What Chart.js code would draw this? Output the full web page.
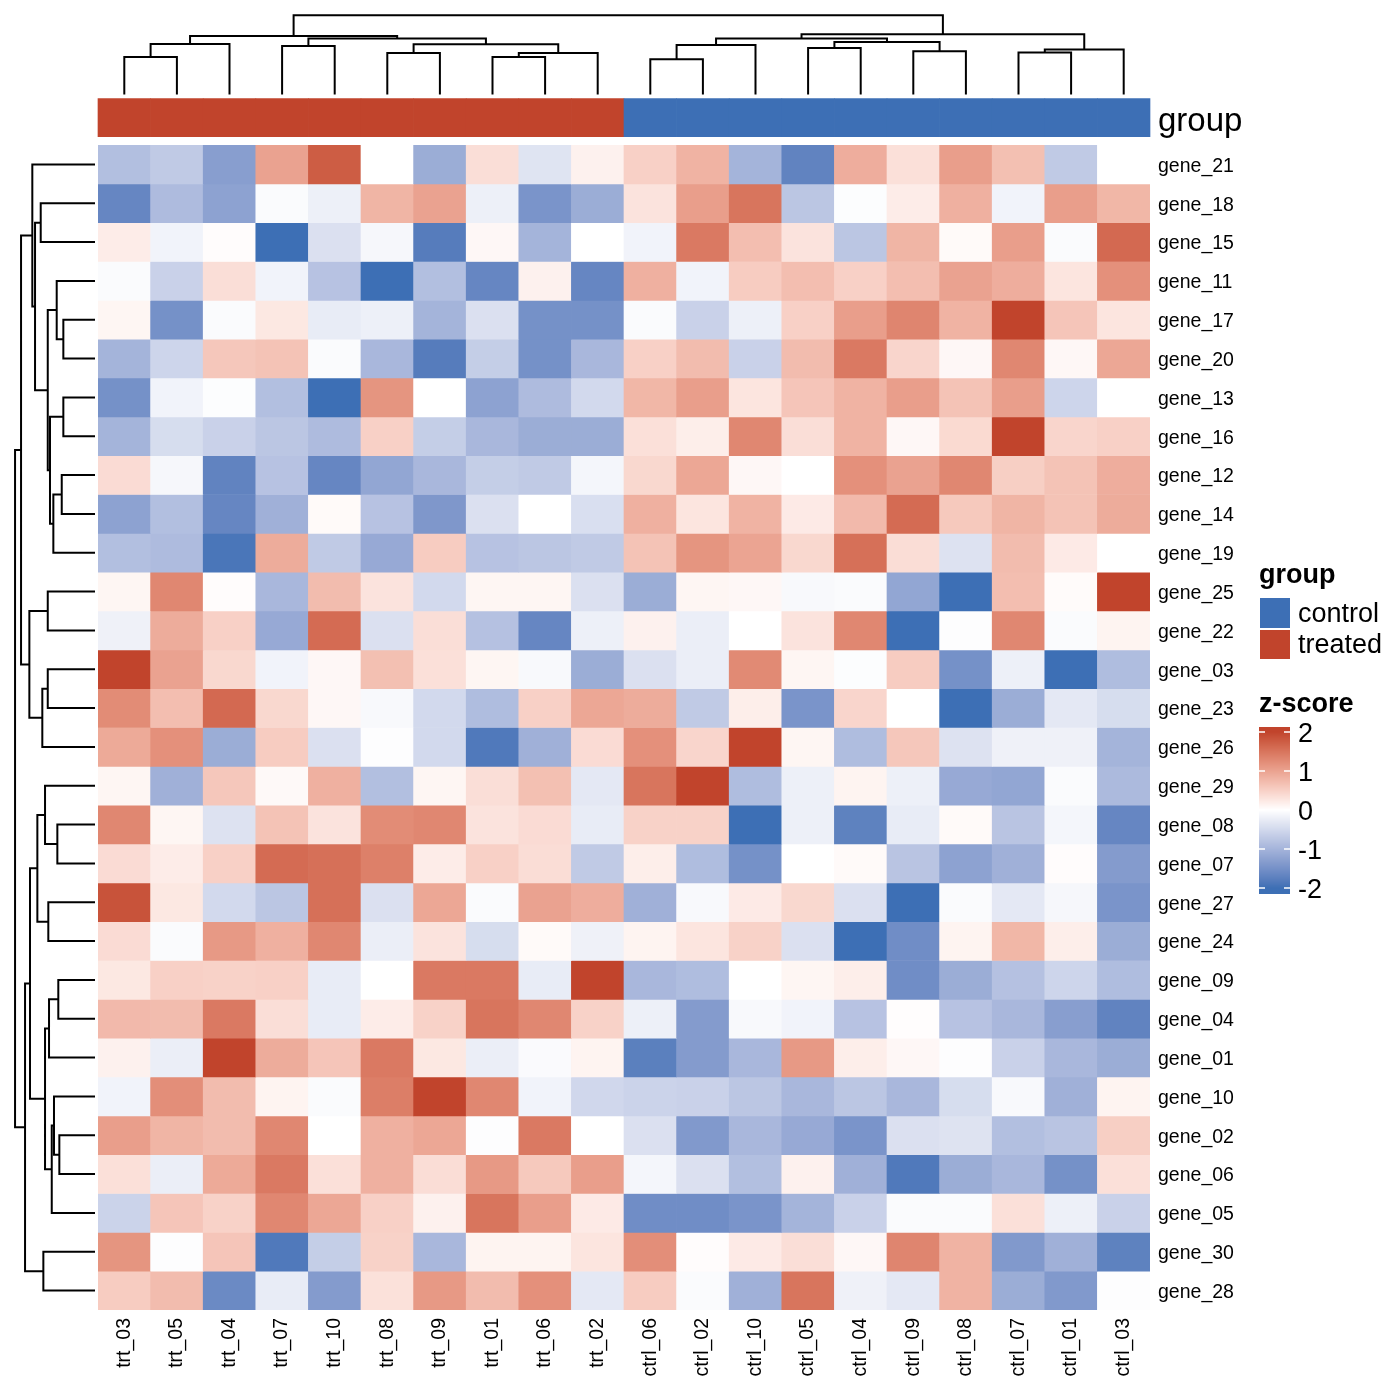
<!DOCTYPE html>
<html>
<head>
<meta charset="utf-8">
<script src="https://cdn.jsdelivr.net/npm/chart.js@4.4.0/dist/chart.umd.min.js"></script>
<style>
  html, body { margin: 0; padding: 0; background: #ffffff; }
</style>
</head>
<body>
<canvas id="heatmap" width="1400" height="1400"></canvas>
<script>
// column order as drawn (after clustering)
const colLabels = ["trt_03", "trt_05", "trt_04", "trt_07", "trt_10", "trt_08", "trt_09", "trt_01", "trt_06", "trt_02",
  "ctrl_06", "ctrl_02", "ctrl_10", "ctrl_05", "ctrl_04", "ctrl_09", "ctrl_08", "ctrl_07", "ctrl_01", "ctrl_03"];
const colGroups = ["treated", "treated", "treated", "treated", "treated", "treated", "treated", "treated", "treated", "treated",
  "control", "control", "control", "control", "control", "control", "control", "control", "control", "control"];

// row order as drawn (after clustering)
const rowLabels = ["gene_21", "gene_18", "gene_15", "gene_11", "gene_17", "gene_20", "gene_13", "gene_16", "gene_12", "gene_14",
  "gene_19", "gene_25", "gene_22", "gene_03", "gene_23", "gene_26", "gene_29", "gene_08", "gene_07", "gene_27",
  "gene_24", "gene_09", "gene_04", "gene_01", "gene_10", "gene_02", "gene_06", "gene_05", "gene_30", "gene_28"];

// z-scores, one row per gene, columns in colLabels order
const zScores = [
  [-0.85, -0.7, -1.3, 1.0, 1.75, 0.0, -1.1, 0.35, -0.35, 0.15, 0.5, 0.82, -1.0, -1.7, 0.88, 0.33, 1.05, 0.68, -0.7, 0.0],
  [-1.65, -0.9, -1.25, -0.05, -0.2, 0.8, 1.0, -0.2, -1.45, -1.1, 0.3, 1.05, 1.5, -0.75, -0.03, 0.2, 0.85, -0.15, 1.05, 0.78],
  [0.2, -0.15, 0.03, -2.1, -0.4, -0.1, -1.8, 0.08, -1.0, 0.0, -0.15, 1.45, 0.7, 0.3, -0.75, 0.8, 0.05, 1.05, -0.05, 1.62],
  [-0.05, -0.6, 0.35, -0.15, -0.8, -2.0, -0.85, -1.65, 0.15, -1.65, 0.85, -0.15, 0.55, 0.7, 0.5, 0.7, 1.0, 0.88, 0.28, 1.2],
  [0.1, -1.5, -0.05, 0.25, -0.25, -0.2, -1.0, -0.4, -1.5, -1.5, -0.05, -0.6, -0.2, 0.5, 1.05, 1.32, 0.82, 2.05, 0.62, 0.28],
  [-1.0, -0.55, 0.6, 0.65, -0.05, -0.95, -1.8, -0.65, -1.5, -0.95, 0.5, 0.72, -0.6, 0.72, 1.45, 0.45, 0.08, 1.3, 0.08, 0.95],
  [-1.5, -0.15, -0.03, -0.85, -2.0, 1.15, 0.0, -1.25, -0.9, -0.5, 0.78, 1.05, 0.28, 0.62, 0.82, 1.05, 0.65, 1.05, -0.55, 0.0],
  [-1.0, -0.45, -0.6, -0.75, -0.9, 0.5, -0.65, -0.95, -1.1, -1.1, 0.33, 0.18, 1.3, 0.35, 0.82, 0.08, 0.4, 2.05, 0.45, 0.5],
  [0.38, -0.1, -1.7, -0.8, -1.65, -1.2, -0.95, -0.65, -0.7, -0.12, 0.42, 0.95, 0.08, 0.0, 1.2, 1.0, 1.3, 0.52, 0.65, 0.88],
  [-1.25, -0.85, -1.65, -1.05, 0.05, -0.8, -1.4, -0.4, 0.0, -0.42, 0.85, 0.28, 0.82, 0.22, 0.75, 1.6, 0.58, 0.8, 0.65, 0.9],
  [-0.85, -0.9, -1.9, 0.9, -0.7, -1.15, 0.55, -0.8, -0.75, -0.7, 0.65, 1.15, 0.98, 0.42, 1.55, 0.36, -0.38, 0.72, 0.22, 0.0],
  [0.1, 1.3, 0.03, -0.95, 0.72, 0.3, -0.5, 0.1, 0.1, -0.4, -1.1, 0.1, 0.08, -0.08, -0.05, -1.2, -2.0, 0.7, 0.04, 2.05],
  [-0.18, 0.9, 0.5, -1.15, 1.6, -0.4, 0.35, -0.82, -1.65, -0.2, 0.15, -0.22, 0.0, 0.3, 1.3, -2.0, -0.02, 1.3, -0.05, 0.12],
  [2.1, 1.0, 0.42, -0.15, 0.08, 0.68, 0.33, 0.1, -0.08, -1.1, -0.4, -0.22, 1.27, 0.1, -0.03, 0.55, -1.5, -0.2, -2.0, -0.88],
  [1.25, 0.7, 1.62, 0.42, 0.08, -0.08, -0.5, -0.88, 0.5, 0.95, 0.9, -0.7, 0.18, -1.45, 0.45, 0.0, -2.0, -1.1, -0.3, -0.45],
  [0.92, 1.2, -1.1, 0.55, -0.4, -0.02, -0.5, -1.85, -1.05, 0.38, 1.2, 0.45, 2.05, 0.1, -0.88, 0.6, -0.38, -0.18, -0.18, -1.0],
  [0.1, -1.05, 0.6, 0.06, 0.85, -0.85, 0.1, 0.35, 0.68, -0.3, 1.5, 2.05, -0.88, -0.2, 0.12, -0.2, -1.15, -1.2, -0.05, -0.92],
  [1.3, 0.1, -0.38, 0.65, 0.3, 1.25, 1.3, 0.3, 0.38, -0.25, 0.48, 0.48, -2.0, -0.2, -1.72, -0.25, 0.05, -0.78, -0.12, -1.65],
  [0.38, 0.2, 0.5, 1.6, 1.55, 1.38, 0.2, 0.5, 0.36, -0.7, 0.18, -0.88, -1.5, 0.0, 0.05, -0.78, -1.25, -1.05, 0.03, -1.35],
  [1.85, 0.25, -0.5, -0.75, 1.55, -0.4, 0.95, -0.05, 1.0, 0.88, -1.05, -0.08, 0.22, 0.42, -0.4, -2.0, -0.05, -0.3, -0.1, -1.45],
  [0.38, -0.05, 1.1, 0.85, 1.3, -0.22, 0.3, -0.45, 0.05, -0.18, 0.12, 0.28, 0.48, -0.4, -2.0, -1.55, 0.12, 0.78, 0.18, -1.1],
  [0.25, 0.5, 0.48, 0.5, -0.25, 0.0, 1.45, 1.45, -0.25, 2.05, -0.95, -0.88, 0.0, 0.1, 0.18, -1.55, -1.1, -0.82, -0.55, -0.88],
  [0.75, 0.72, 1.45, 0.35, -0.25, 0.2, 0.48, 1.5, 1.3, 0.48, -0.2, -1.35, -0.08, -0.15, -0.8, 0.02, -0.8, -0.95, -1.3, -1.7],
  [0.15, -0.22, 2.1, 0.9, 0.62, 1.45, 0.25, -0.22, -0.06, 0.12, -1.75, -1.35, -0.95, 1.1, 0.18, 0.08, -0.02, -0.6, -0.95, -1.1],
  [-0.15, 1.22, 0.72, 0.12, -0.05, 1.4, 2.05, 1.3, -0.15, -0.52, -0.58, -0.6, -0.75, -0.95, -0.75, -0.95, -0.45, -0.08, -1.05, 0.12],
  [1.05, 0.8, 0.72, 1.3, 0.0, 0.85, 0.95, -0.02, 1.45, 0.0, -0.4, -1.38, -0.95, -1.15, -1.45, -0.4, -0.37, -0.85, -0.78, 0.52],
  [0.33, -0.22, 0.92, 1.45, 0.33, 0.85, 0.36, 1.1, 0.58, 1.05, -0.12, -0.4, -0.85, 0.15, -1.05, -1.85, -1.1, -0.95, -1.5, 0.33],
  [-0.58, 0.62, 0.48, 1.3, 0.95, 0.5, 0.15, 1.5, 1.05, 0.22, -1.55, -1.55, -1.45, -1.0, -0.6, -0.05, -0.05, 0.33, -0.2, -0.6],
  [1.15, -0.02, 0.62, -1.85, -0.65, 0.48, -0.95, 0.12, 0.12, 0.28, 1.22, 0.03, 0.22, 0.35, 0.08, 1.32, 0.82, -1.38, -1.05, -1.72],
  [0.55, 0.72, -1.6, -0.25, -1.35, 0.32, 1.1, 0.72, 1.2, -0.3, 0.55, -0.05, -1.05, 1.5, -0.18, -0.3, 0.82, -1.1, -1.38, -0.02]
];

// column dendrogram, hclust style: negative = leaf (1-based position), positive = earlier merge
const colMerge = [[-1, -2], [-8, -9], [-11, -12], [-6, -7], [2, -10], [-18, -19], [-16, -17], [6, -20], [-14, -15], [-4, -5],
  [3, -13], [4, 5], [1, -3], [9, 7], [10, 12], [11, 14], [13, 15], [16, 8], [17, 18]];
const colHeight = [4.74, 4.74, 4.45, 5.25, 5.25, 5.30, 5.46, 5.67, 5.88, 6.13,
  6.25, 6.34, 6.38, 6.63, 7.06, 7.06, 7.39, 7.60, 10.0];

// row dendrogram, same encoding
const rowMerge = [[-5, -6], [-7, -8], [-9, -10], [-26, -27], [-22, -23], [-18, -19], [-4, 1], [-25, 4], [3, -11], [8, -28],
  [2, 9], [5, -24], [-20, -21], [7, 11], [-12, -13], [-14, -15], [-17, 6], [12, 10], [-29, -30], [16, -16],
  [-2, -3], [17, 13], [21, 14], [-1, 23], [22, 18], [15, 20], [25, 19], [24, 26], [28, 27]];
const rowHeight = [3.96, 3.96, 4.16, 4.46, 4.59, 4.71, 4.79, 5.13, 5.21, 5.41,
  5.63, 5.75, 5.84, 5.91, 5.91, 5.91, 6.25, 6.25, 6.46, 6.59,
  6.79, 7.21, 7.50, 7.84, 8.13, 8.21, 8.75, 9.25, 10.0];

const legendTicks = [2, 1, 0, -1, -2];
const groupColors = { control: "#3D6FB5", treated: "#C1442C" };
const lowColor = "#3D6FB5", midColor = "#FFFFFF", highColor = "#C1442C";
const fontFamily = '"Liberation Sans", Arial, Helvetica, sans-serif';

// ---- colour ramp in LAB space (like circlize::colorRamp2) ----
const WHITE_XYZ = [0.95047, 1, 1.08883];
function toLinear(c) { c /= 255; return c <= 0.04045 ? c / 12.92 : Math.pow((c + 0.055) / 1.055, 2.4); }
function fromLinear(c) {
  const v = c <= 0.0031308 ? 12.92 * c : 1.055 * Math.pow(c, 1 / 2.4) - 0.055;
  return Math.round(Math.max(0, Math.min(1, v)) * 255);
}
function hexToLab(hex) {
  const n = parseInt(hex.slice(1), 16);
  const r = toLinear((n >> 16) & 255), g = toLinear((n >> 8) & 255), b = toLinear(n & 255);
  const x = (0.4124 * r + 0.3576 * g + 0.1805 * b) / WHITE_XYZ[0];
  const y = (0.2126 * r + 0.7152 * g + 0.0722 * b) / WHITE_XYZ[1];
  const z = (0.0193 * r + 0.1192 * g + 0.9505 * b) / WHITE_XYZ[2];
  const f = t => t > 0.008856 ? Math.cbrt(t) : 7.787 * t + 16 / 116;
  return [116 * f(y) - 16, 500 * (f(x) - f(y)), 200 * (f(y) - f(z))];
}
function labToRgb(lab) {
  const fy = (lab[0] + 16) / 116, fx = fy + lab[1] / 500, fz = fy - lab[2] / 200;
  const inv = t => t * t * t > 0.008856 ? t * t * t : (t - 16 / 116) / 7.787;
  const x = inv(fx) * WHITE_XYZ[0], y = inv(fy) * WHITE_XYZ[1], z = inv(fz) * WHITE_XYZ[2];
  const r = 3.2406 * x - 1.5372 * y - 0.4986 * z;
  const g = -0.9689 * x + 1.8758 * y + 0.0415 * z;
  const b = 0.0557 * x - 0.2040 * y + 1.0570 * z;
  return "rgb(" + fromLinear(r) + "," + fromLinear(g) + "," + fromLinear(b) + ")";
}
const labLow = hexToLab(lowColor), labMid = hexToLab(midColor), labHigh = hexToLab(highColor);
function zColor(v) {
  const t = Math.max(-2, Math.min(2, v));
  const end = t < 0 ? labLow : labHigh;
  const f = Math.abs(t) / 2;
  return labToRgb(labMid.map((m, i) => m + (end[i] - m) * f));
}

// ---- dendrogram paths (in leaf units and height units) ----
function dendroPath(merge, height, toPoint) {
  const nodes = [];
  const pts = [];
  const node = id => id < 0 ? { pos: -id - 0.5, h: 0 } : nodes[id - 1];
  merge.forEach((pair, i) => {
    const a = node(pair[0]), b = node(pair[1]), h = height[i];
    pts.push(toPoint(a.pos, a.h), toPoint(a.pos, h), toPoint(b.pos, h), toPoint(b.pos, b.h), { x: null, y: null });
    nodes.push({ pos: (a.pos + b.pos) / 2, h: h });
  });
  return pts;
}
const colMaxH = Math.max(...colHeight), rowMaxH = Math.max(...rowHeight);
// top dendrogram sits above the heatmap, in row units (negative = above)
const topPoints = dendroPath(colMerge, colHeight, (p, h) => ({ x: p, y: -1.3 - (h / colMaxH) * 2.04 }));
// left dendrogram sits left of the heatmap, in column units
const leftPoints = dendroPath(rowMerge, rowHeight, (p, h) => ({ x: -0.057 - (h / rowMaxH) * 1.52, y: p }));

// annotation band position, rows above the heatmap
const annoTop = -1.197, annoBottom = -0.213;

const heatDatasets = zScores.map((row, r) => ({
  type: "bar",
  label: rowLabels[r],
  data: colLabels.map(() => [r, r + 1]),
  backgroundColor: row.map(zColor),
  borderWidth: 0,
  grouped: false,
  barPercentage: 1,
  categoryPercentage: 1,
  xAxisID: "x",
  yAxisID: "y"
}));

const annoDataset = {
  type: "bar",
  label: "group",
  data: colLabels.map(() => [annoTop, annoBottom]),
  backgroundColor: colGroups.map(g => groupColors[g]),
  borderWidth: 0,
  grouped: false,
  barPercentage: 1,
  categoryPercentage: 1,
  clip: false,
  xAxisID: "x",
  yAxisID: "y"
};

function dendroDataset(points) {
  return {
    type: "line",
    data: points,
    borderColor: "#000000",
    borderWidth: 2,
    pointRadius: 0,
    pointHoverRadius: 0,
    tension: 0,
    spanGaps: false,
    clip: false,
    borderJoinStyle: "miter",
    xAxisID: "xd",
    yAxisID: "y"
  };
}

const sideLegends = {
  id: "sideLegends",
  afterDraw(chart) {
    const { ctx, chartArea, scales } = chart;
    ctx.save();
    ctx.fillStyle = "#000000";
    ctx.textAlign = "left";

    // annotation name next to the band
    ctx.font = "33px " + fontFamily;
    ctx.textBaseline = "middle";
    const bandMid = (scales.y.getPixelForValue(annoTop) + scales.y.getPixelForValue(annoBottom)) / 2;
    ctx.fillText("group", chartArea.right + 8, bandMid + 4);

    const lx = chartArea.right + 110;
    ctx.textBaseline = "alphabetic";

    // group legend
    ctx.font = "bold 27px " + fontFamily;
    ctx.fillText("group", lx - 1, 583);
    ctx.fillStyle = groupColors.control;
    ctx.fillRect(lx, 598, 30, 30);
    ctx.fillStyle = groupColors.treated;
    ctx.fillRect(lx, 630, 30, 29);
    ctx.fillStyle = "#000000";
    ctx.font = "27px " + fontFamily;
    ctx.fillText("control", lx + 38, 622);
    ctx.fillText("treated", lx + 38, 653);

    // z-score colour bar
    ctx.font = "bold 27px " + fontFamily;
    ctx.fillText("z-score", lx - 1, 712);
    const zeroY = 810, unit = 39, barTop = 727, barBottom = 894;
    for (let py = barTop; py < barBottom; py++) {
      ctx.fillStyle = zColor((zeroY - (py + 0.5)) / unit);
      ctx.fillRect(lx - 1, py, 31, 1);
    }
    ctx.strokeStyle = "#ffffff";
    ctx.lineWidth = 1.5;
    ctx.font = "27px " + fontFamily;
    legendTicks.forEach(t => {
      const ty = zeroY - t * unit;
      ctx.beginPath();
      ctx.moveTo(lx - 1, ty); ctx.lineTo(lx + 5, ty);
      ctx.moveTo(lx + 24, ty); ctx.lineTo(lx + 30, ty);
      ctx.stroke();
      ctx.fillStyle = "#000000";
      ctx.fillText(String(t), lx + 38, ty + 10);
    });
    ctx.restore();
  }
};

const ctx = document.getElementById("heatmap").getContext("2d");
const heatmapChart = new Chart(ctx, {
  type: "bar",
  data: {
    labels: colLabels,
    datasets: [...heatDatasets, annoDataset, dendroDataset(topPoints), dendroDataset(leftPoints)]
  },
  options: {
    responsive: false,
    animation: false,
    events: [],
    layout: { padding: { left: 98, top: 145, right: 0, bottom: 0 } },
    plugins: {
      legend: { display: false },
      tooltip: { enabled: false }
    },
    scales: {
      x: {
        type: "category",
        position: "bottom",
        offset: true,
        grid: { display: false, drawTicks: false },
        border: { display: false },
        ticks: {
          color: "#000000",
          font: { family: fontFamily, size: 19.5 },
          minRotation: 90,
          maxRotation: 90,
          autoSkip: false,
          padding: 8
        },
        afterFit: axis => { axis.height = 90; }
      },
      xd: {
        type: "linear",
        display: false,
        offset: false,
        grid: { offset: false },
        min: 0,
        max: colLabels.length
      },
      y: {
        type: "linear",
        position: "right",
        reverse: true,
        min: 0,
        max: rowLabels.length,
        grid: { display: false, drawTicks: false },
        border: { display: false },
        afterBuildTicks: axis => { axis.ticks = rowLabels.map((_, i) => ({ value: i + 0.5 })); },
        ticks: {
          color: "#000000",
          font: { family: fontFamily, size: 19.5 },
          autoSkip: false,
          padding: 8,
          labelOffset: 2,
          callback: (value, index) => rowLabels[index]
        },
        afterFit: axis => { axis.width = 250; }
      }
    }
  },
  plugins: [sideLegends]
});
</script>
</body>
</html>
